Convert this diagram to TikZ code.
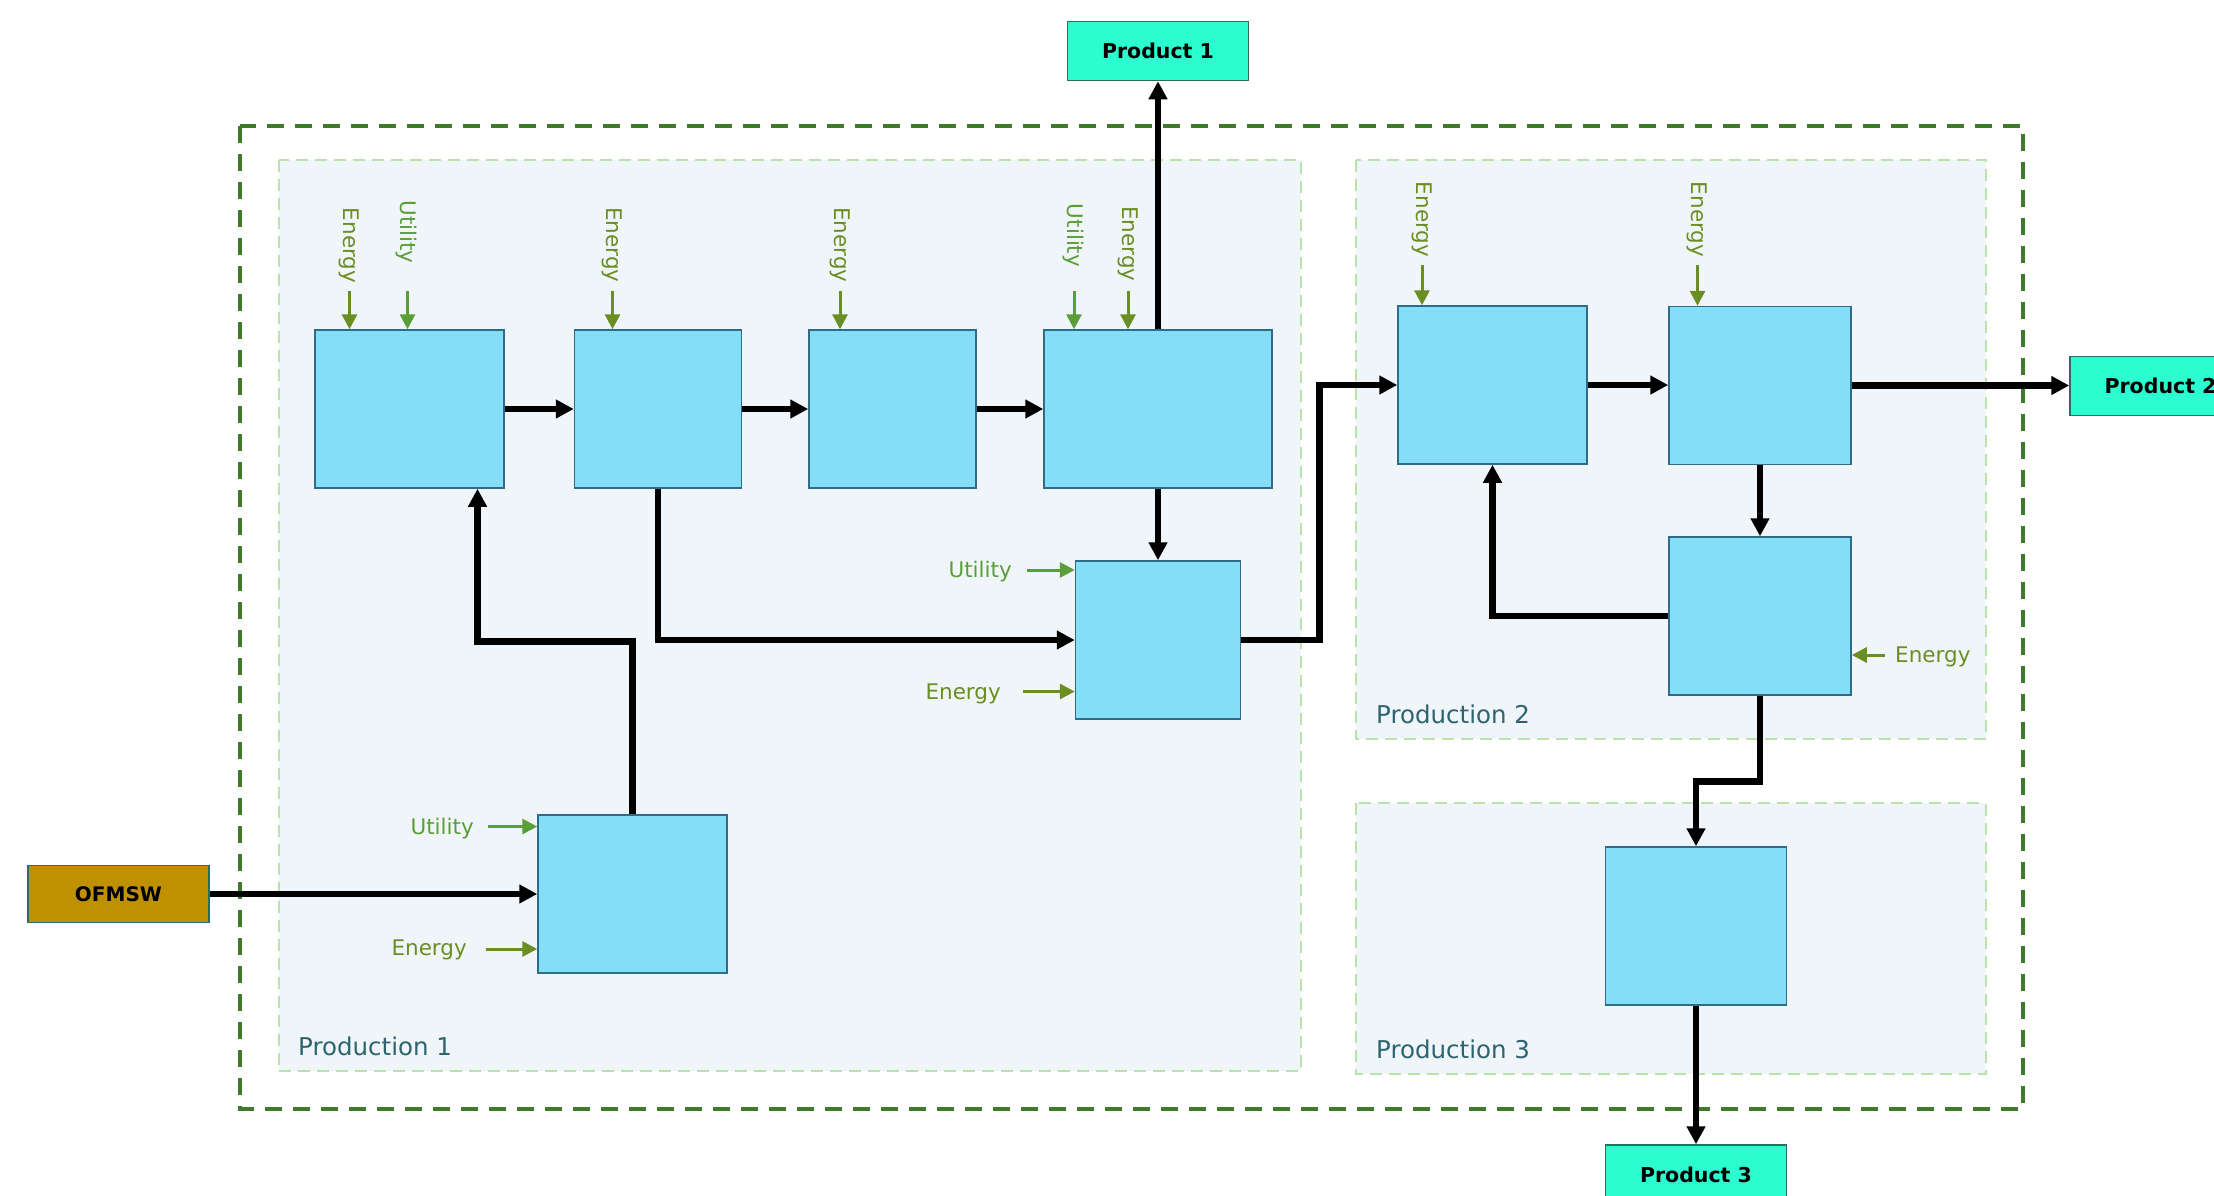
\documentclass[tikz,border=0pt]{standalone}
\usepackage{fontspec}
\setmainfont{DejaVu Sans}
\usetikzlibrary{arrows.meta}

\definecolor{procfill}{HTML}{84DEF7}
\definecolor{procline}{HTML}{2E6C88}
\definecolor{prodfill}{HTML}{2BFDD0}
\definecolor{prodline}{HTML}{2A6E60}
\definecolor{feedfill}{HTML}{BF9000}
\definecolor{panelfill}{HTML}{F0F5FA}
\definecolor{panelline}{HTML}{B8E4AC}
\definecolor{outerline}{HTML}{3F7A2A}
\definecolor{energycol}{HTML}{6B8E23}
\definecolor{utilcol}{HTML}{5A9E38}
\definecolor{panellab}{HTML}{2C6470}

\tikzset{
  proc/.style={draw=procline, line width=1.5pt, fill=procfill, minimum height=158pt, inner sep=0pt},
  prodbox/.style={draw=prodline, line width=1.5pt, fill=prodfill, minimum width=181pt,
    minimum height=59pt, inner sep=0pt, font=\bfseries\fontsize{20.5}{24}\selectfont},
  feedbox/.style={draw=prodline, line width=1.5pt, fill=feedfill, minimum width=181pt,
    minimum height=57pt, inner sep=0pt, font=\bfseries\fontsize{20}{24}\selectfont},
  panel/.style={draw=panelline, fill=panelfill, line width=2pt, dash pattern=on 12pt off 7pt},
  outerframe/.style={draw=outerline, line width=4pt, dash pattern=on 17pt off 11pt},
  panellabel/.style={text=panellab, anchor=west, inner sep=0pt, font=\fontsize{24.5}{28}\selectfont},
  flowline/.style={line width=6.2pt, -{Triangle[length=18pt,width=18pt]}},
  energyarrow/.style={draw=energycol, line width=3pt, -{Triangle[length=15pt,width=15pt]}},
  utilarrow/.style={draw=utilcol, line width=3pt, -{Triangle[length=15pt,width=15pt]}},
  energylab/.style={text=energycol, inner sep=0pt, font=\fontsize{21.5}{24}\selectfont},
  utillab/.style={text=utilcol, inner sep=0pt, font=\fontsize{21.5}{24}\selectfont},
}

\begin{document}
\begin{tikzpicture}[x=1pt, y=-1pt]
  \clip (0,0) rectangle (2214,1195);
  \fill[white] (0,0) rectangle (2214,1195);

  % frames and production areas
  \draw[outerframe] (240,126) rectangle (2023,1109);
  \draw[panel] (278.5,159.5) rectangle (1300.5,1071);
  \draw[panel] (1356,159.5) rectangle (1985.5,739);
  \draw[panel] (1356,803) rectangle (1985.5,1074);
  \node[panellabel] (lab1) at (298,1046) {Production 1};
  \node[panellabel] (lab2) at (1376,714) {Production 2};
  \node[panellabel] (lab3) at (1376,1049) {Production 3};

  % process units
  \node[proc, minimum width=189pt] (a1) at (409.5,409) {};
  \node[proc, minimum width=167pt] (a2) at (658,409) {};
  \node[proc, minimum width=167pt] (a3) at (892.5,409) {};
  \node[proc, minimum width=228pt] (a4) at (1158,409) {};
  \node[proc, minimum width=165pt] (a5) at (1158,640) {};
  \node[proc, minimum width=189pt] (a6) at (632.5,894) {};
  \node[proc, minimum width=189pt] (b1) at (1492.5,385) {};
  \node[proc, minimum width=182pt] (b2) at (1760,385.5) {};
  \node[proc, minimum width=182pt] (b3) at (1760,616) {};
  \node[proc, minimum width=181pt] (c1) at (1696,926) {};

  % feed and products
  \node[feedbox] (feed) at (118.5,894) {OFMSW};
  \node[prodbox] (p1) at (1158,51) {Product 1};
  \node[prodbox] (p2) at (2160.5,386) {Product 2};
  \node[prodbox] (p3) at (1696,1174.5) {Product 3};

  % main material flows
  \draw[flowline] (a1.east) -- (a2.west);
  \draw[flowline] (a2.east) -- (a3.west);
  \draw[flowline] (a3.east) -- (a4.west);
  \draw[flowline] (a4.north) -- (p1.south);
  \draw[flowline] (a4.south) -- (a5.north);
  \draw[flowline] (a2.south) |- (a5.west);
  \coordinate (r1) at (632.5,641.5);
  \coordinate (r2) at (477.5,641.5);
  \draw[flowline] (a6.north) -- (r1) -- (r2) -- (r2 |- a1.south);
  \draw[flowline] (feed.east) -- (a6.west);
  \coordinate (t1) at (1319.5,640);
  \draw[flowline] (a5.east) -- (t1) |- (b1.west);
  \draw[flowline] (b1.east) -- (b1.east -| b2.west);
  \draw[flowline] (b2.east) -- (b2.east -| p2.west);
  \draw[flowline] (b2.south) -- (b3.north);
  \draw[flowline] (b3.west) -| (b1.south);
  \coordinate (s1) at (1760,781.5);
  \draw[flowline] (b3.south) -- (s1) -| (c1.north);
  \draw[flowline] (c1.south) -- (p3.north);

  % energy and utility inputs, top row
  \node[energylab, rotate=-90] (e1) at (349.5,245.5) {Energy};
  \node[utillab, rotate=-90] (u1) at (406.5,232) {Utility};
  \coordinate (e1s) at (349.5,291);
  \coordinate (u1s) at (407.5,291);
  \draw[energyarrow] (e1s) -- (e1s |- a1.north);
  \draw[utilarrow] (u1s) -- (u1s |- a1.north);

  \node[energylab, rotate=-90] (e2) at (612.5,245) {Energy};
  \coordinate (e2s) at (612.5,291);
  \draw[energyarrow] (e2s) -- (e2s |- a2.north);

  \node[energylab, rotate=-90] (e3) at (840,245) {Energy};
  \coordinate (e3s) at (840,291);
  \draw[energyarrow] (e3s) -- (e3s |- a3.north);

  \node[utillab, rotate=-90] (u4) at (1073.5,235.5) {Utility};
  \node[energylab, rotate=-90] (e4) at (1128,244) {Energy};
  \coordinate (u4s) at (1074,291);
  \coordinate (e4s) at (1128,291);
  \draw[utilarrow] (u4s) -- (u4s |- a4.north);
  \draw[energyarrow] (e4s) -- (e4s |- a4.north);

  % inputs to the mixing unit
  \node[utillab, anchor=east] (u5) at (1012,572) {Utility};
  \coordinate (u5s) at (1027,570);
  \draw[utilarrow] (u5s) -- (u5s -| a5.west);
  \node[energylab, anchor=east] (e5) at (1001,693.5) {Energy};
  \coordinate (e5s) at (1023,691.5);
  \draw[energyarrow] (e5s) -- (e5s -| a5.west);

  % inputs to the pretreatment unit
  \node[utillab, anchor=east] (u6) at (474,829) {Utility};
  \coordinate (u6s) at (488,826.5);
  \draw[utilarrow] (u6s) -- (u6s -| a6.west);
  \node[energylab, anchor=east] (e6) at (467,950) {Energy};
  \coordinate (e6s) at (486,949);
  \draw[energyarrow] (e6s) -- (e6s -| a6.west);

  % inputs in production 2
  \node[energylab, rotate=-90] (e7) at (1422,219.5) {Energy};
  \coordinate (e7s) at (1422,265);
  \draw[energyarrow] (e7s) -- (e7s |- b1.north);
  \node[energylab, rotate=-90] (e8) at (1697.5,219.5) {Energy};
  \coordinate (e8s) at (1697.5,265);
  \draw[energyarrow] (e8s) -- (e8s |- b2.north);
  \node[energylab, anchor=west] (e9) at (1895,657) {Energy};
  \coordinate (e9s) at (1885,655);
  \draw[energyarrow] (e9s) -- (e9s -| b3.east);
\end{tikzpicture}
\end{document}
